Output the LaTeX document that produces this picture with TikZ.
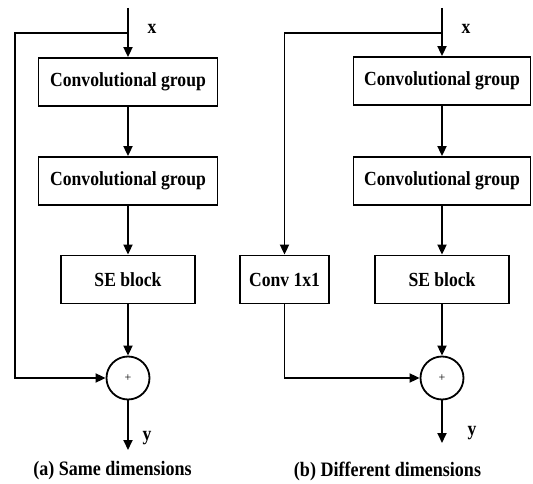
\documentclass[tikz,border=0pt]{standalone}
\usepackage{fontspec}
\usepackage{graphicx}
\setmainfont{Liberation Serif}
\usetikzlibrary{arrows.meta}
\newcommand{\cnd}[1]{\scalebox{0.88}[1]{#1}}
\begin{document}
\begin{tikzpicture}[x=1pt,y=-1pt,
  line width=1.8pt,
  arr/.style={-{Triangle[length=10pt,width=9pt]}},
  blk/.style={draw, rectangle, inner sep=0pt, font=\fontsize{20}{22}\selectfont\bfseries},
  sumnode/.style={draw, circle, minimum size=43pt, inner sep=0pt, font=\fontsize{12}{13}\selectfont},
  lbl/.style={font=\fontsize{20}{22}\selectfont\bfseries, inner sep=0pt},
  captxt/.style={font=\fontsize{20.5}{22}\selectfont\bfseries, inner sep=0pt}]
\useasboundingbox (0,0) rectangle (533,484);
% ---------- (a) ----------
\coordinate (ain) at (128,8);
\coordinate (abr) at (128,33);
\coordinate (atl) at (15,33);
\coordinate (abl) at (15,378);
\node[blk, minimum width=179pt, minimum height=48pt] (ac1) at (128,82) {\cnd{Convolutional group}};
\node[blk, minimum width=179pt, minimum height=48pt] (ac2) at (128,181) {\cnd{Convolutional group}};
\node[blk, minimum width=134pt, minimum height=48pt] (ase) at (128,279.5) {\cnd{SE block}};
\node[sumnode] (asum) at (128,378) {+};
\coordinate (aout) at (128,450);
\node[lbl] (ax) at (152,29) {\cnd{x}};
\node[lbl] (ay) at (147,438) {\cnd{y}};
\node[captxt] (acap) at (112.5,471) {\cnd{(a) Same dimensions}};
\draw (ain) -- (abr);
\draw[arr] (abr) -- (ac1);
\draw[arr] (ac1) -- (ac2);
\draw[arr] (ac2) -- (ase);
\draw[arr] (ase) -- (asum);
\draw[arr] (abr) -- (atl) -- (abl) -- (asum);
\draw[arr] (asum) -- (aout);
% ---------- (b) ----------
\coordinate (bin) at (442,8);
\coordinate (bbr) at (442,33);
\coordinate (btl) at (284.5,33);
\node[blk, minimum width=177pt, minimum height=48pt] (bc1) at (442,81) {\cnd{Convolutional group}};
\node[blk, minimum width=177pt, minimum height=48pt] (bc2) at (442,181) {\cnd{Convolutional group}};
\node[blk, minimum width=134pt, minimum height=48pt] (bse) at (442,279.5) {\cnd{SE block}};
\node[blk, minimum width=89pt, minimum height=48pt] (bcv) at (284.5,279.5) {\cnd{Conv 1x1}};
\node[sumnode] (bsum) at (442,378) {+};
\coordinate (bbl) at (284.5,378);
\coordinate (bout) at (442,443);
\node[lbl] (bx) at (466,29) {\cnd{x}};
\node[lbl] (by) at (472,433) {\cnd{y}};
\node[captxt] (bcap) at (387.5,471) {\cnd{(b) Different dimensions}};
\draw (bin) -- (bbr);
\draw[arr] (bbr) -- (bc1);
\draw[arr] (bc1) -- (bc2);
\draw[arr] (bc2) -- (bse);
\draw[arr] (bse) -- (bsum);
\draw[arr] (bbr) -- (btl) -- (bcv);
\draw[arr] (bcv) -- (bbl) -- (bsum);
\draw[arr] (bsum) -- (bout);
\end{tikzpicture}
\end{document}
